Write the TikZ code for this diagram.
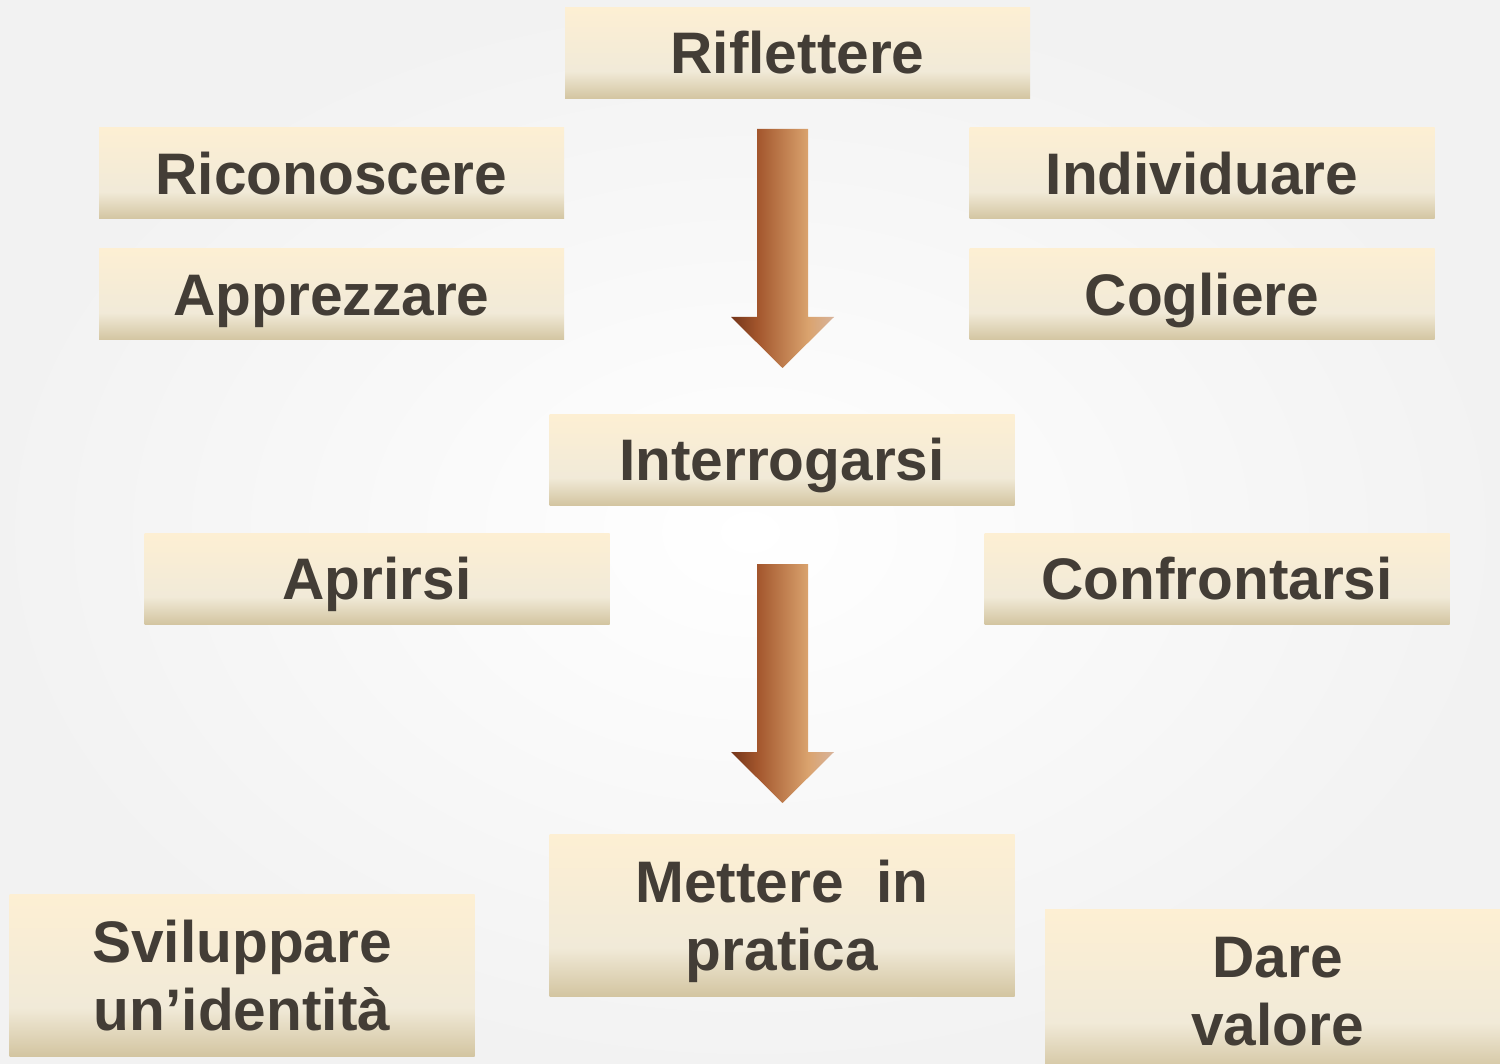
\documentclass[tikz,border=0pt]{standalone}
\usepackage{fontspec}
\setmainfont{Liberation Sans}
\definecolor{boxtop}{HTML}{FDEFD3}
\definecolor{boxmid}{HTML}{F1EAD8}
\definecolor{boxbot}{HTML}{D3C5A1}
\definecolor{ink}{HTML}{433D36}
\definecolor{arrdark}{HTML}{74351A}
\definecolor{arrleft}{HTML}{A2552C}
\definecolor{arrright}{HTML}{DAA36E}
\definecolor{arrlight}{HTML}{D8B49C}
\pgfdeclareverticalshading{boxfill}{100bp}{color(0bp)=(boxbot); color(25bp)=(boxbot); color(40bp)=(boxmid); color(75bp)=(boxtop); color(100bp)=(boxtop)}
\pgfdeclarehorizontalshading{arrowfill}{100bp}{color(0bp)=(arrdark); color(25bp)=(arrdark); color(37.5bp)=(arrleft); color(62.5bp)=(arrright); color(75bp)=(arrlight); color(100bp)=(arrlight)}
\tikzset{
  box/.style={shade, shading=boxfill, minimum width=232.5pt, minimum height=45.5pt, inner sep=0pt,
    text=ink, font=\bfseries\fontsize{29.3}{34}\selectfont, text height=21pt, text depth=0pt},
  tallbox/.style={box, minimum height=81pt, align=center, text height=55pt}
}
\begin{document}
\begin{tikzpicture}[x=0.5pt,y=-0.5pt]
\useasboundingbox (0,0) rectangle (1500,1064);
\shade[inner color=white, outer color=black!5] (0,0) rectangle (1500,1064);
% first row
\node[box] (rifl) at (797.5,53) {Riflettere};
\node[box] (ricon) at (331.5,173.5) {Riconoscere};
\node[box] (indiv) at (1202,173.5) {Individuare};
\node[box] (apprez) at (331.5,294.5) {Apprezzare};
\node[box] (cogl) at (1202,294.5) {Cogliere};
% middle
\node[box] (interr) at (782,459.5) {Interrogarsi};
\node[box] (aprir) at (377,578.5) {Aprirsi};
\node[box] (confr) at (1217,578.5) {Confrontarsi};
% bottom
\node[tallbox] (mett) at (782,915) {Mettere~~in\\pratica};
\node[tallbox] (svil) at (242,975) {Sviluppare\\un’identità};
\node[tallbox] (dare) at (1277.5,990) {Dare\\valore};
% arrows
\shade[shading=arrowfill] (757,129) -- (808,129) -- (808,317) -- (834,317) -- (782.5,368) -- (731,317) -- (757,317) -- cycle;
\shade[shading=arrowfill] (757,564) -- (808,564) -- (808,752) -- (834,752) -- (782.5,803) -- (731,752) -- (757,752) -- cycle;
\end{tikzpicture}
\end{document}
